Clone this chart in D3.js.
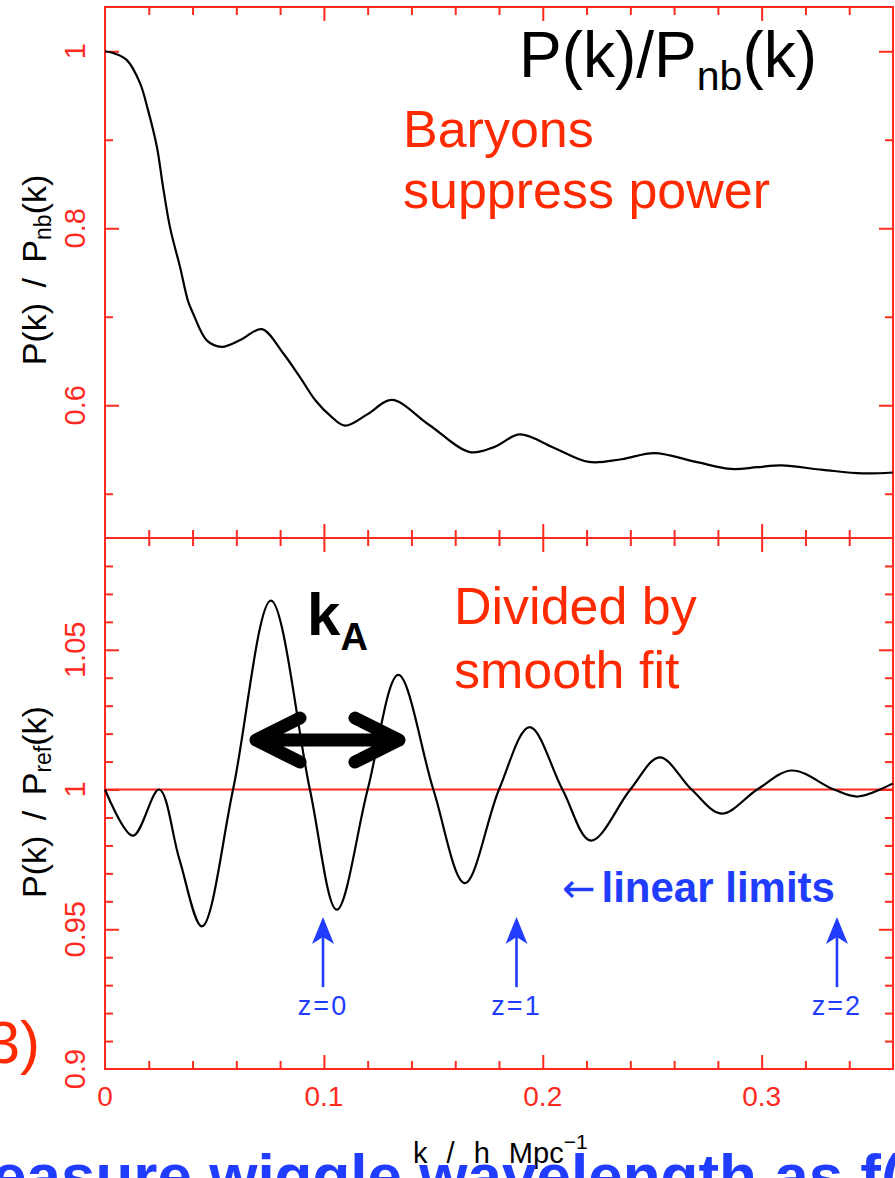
<!DOCTYPE html>
<html>
<head>
<meta charset="utf-8">
<script src="https://cdn.jsdelivr.net/npm/d3@7"></script>
<style>
  html, body { margin: 0; padding: 0; background: #fff; overflow: hidden; }
  svg { display: block; font-family: "Liberation Sans", Arial, Helvetica, sans-serif; }
</style>
</head>
<body>
<svg id="chart"></svg>
<script>
// ---- data ----
// upper panel: P(k)/P_nb(k)
var kTop = [0, 0.005, 0.010, 0.016, 0.0196, 0.0237, 0.0265, 0.0297, 0.0343, 0.0379, 0.0402, 0.0466, 0.0534, 0.062, 0.0717, 0.0813, 0.089, 0.096, 0.103, 0.1096, 0.12, 0.131, 0.148, 0.1667, 0.178, 0.1895, 0.205, 0.221, 0.236, 0.251, 0.27, 0.286, 0.298, 0.309, 0.328, 0.346, 0.36]
var ratioTop = [1, 0.997, 0.990, 0.964, 0.934, 0.892, 0.847, 0.801, 0.756, 0.718, 0.704, 0.673, 0.666, 0.674, 0.686, 0.659, 0.632, 0.606, 0.588, 0.577, 0.590, 0.606, 0.578, 0.547, 0.553, 0.567, 0.552, 0.536, 0.539, 0.546, 0.536, 0.528, 0.530, 0.532, 0.527, 0.523, 0.524]

// lower panel: P(k)/P_ref(k)
var kBot = [0, 0.0128, 0.0247, 0.034, 0.0443, 0.0585, 0.0758, 0.0936, 0.1059, 0.120, 0.134, 0.150, 0.1644, 0.180, 0.194, 0.209, 0.222, 0.240, 0.2534, 0.268, 0.2817, 0.298, 0.3137, 0.333, 0.344, 0.36]
var ratioBot = [1, 0.9835, 1.0, 0.975, 0.951, 1.0, 1.0676, 1.0, 0.957, 1.0, 1.041, 1.0, 0.9665, 1.0, 1.0223, 1.0, 0.9817, 1.0, 1.0115, 1.0, 0.9914, 1.0, 1.0068, 1.0, 0.9975, 1.0022]

// linear limits (arrows)
var zLimitK = [0.0996, 0.188, 0.3344]
var zLabels = ["z=0", "z=1", "z=2"]

// ticks
var kMajor = [0, 0.1, 0.2, 0.3]
var kMajorLabels = ["0", "0.1", "0.2", "0.3"]
var kMinor = [0.02, 0.04, 0.06, 0.08, 0.12, 0.14, 0.16, 0.18, 0.22, 0.24, 0.26, 0.28, 0.32, 0.34]
var topMajor = [0.6, 0.8, 1]
var topMajorLabels = ["0.6", "0.8", "1"]
var topMinor = [0.5, 0.7, 0.9]
var botMajor = [0.95, 1, 1.05]
var botLabelVals = [0.9, 0.95, 1, 1.05]
var botLabels = ["0.9", "0.95", "1", "1.05"]
var botMinor = [0.91, 0.92, 0.93, 0.94, 0.96, 0.97, 0.98, 0.99, 1.01, 1.02, 1.03, 1.04, 1.06, 1.07, 1.08]

var dimensions = {
    width: 895,
    height: 1178,
    left: 105,
    right: 893,
    top: 7,
    mid: 538,
    bottom: 1069
}

var axisRed = "#ff2a1f"
var textRed = "#ff2a00"
var blue = "#1f3cff"

var svg = d3.select("#chart")
    .attr("width", dimensions.width)
    .attr("height", dimensions.height)

var xScale = d3.scaleLinear()
    .domain([0, 0.36])
    .range([dimensions.left, dimensions.right])

var yTop = d3.scaleLinear()
    .domain([0.45, 1.05])
    .range([dimensions.mid, dimensions.top])

var yBot = d3.scaleLinear()
    .domain([0.9, 1.09])
    .range([dimensions.bottom, dimensions.mid])

// ---- ticks (all pointing inwards) ----
function addTicks(axisFn, scale, values, len, tx, ty) {
    svg.append("g")
        .attr("transform", "translate(" + tx + "," + ty + ")")
        .attr("color", axisRed)
        .call(axisFn(scale).tickValues(values).tickSize(-len).tickFormat(""))
        .call(g => g.select(".domain").remove())
        .selectAll("line").attr("stroke-width", 2)
}

// x ticks: bottom of each panel and top of each panel
addTicks(d3.axisBottom, xScale, kMajor.slice(1), 14, 0, dimensions.bottom)
addTicks(d3.axisBottom, xScale, kMinor, 8, 0, dimensions.bottom)
addTicks(d3.axisBottom, xScale, kMajor.slice(1), 14, 0, dimensions.mid)
addTicks(d3.axisBottom, xScale, kMinor, 8, 0, dimensions.mid)
addTicks(d3.axisTop, xScale, kMajor.slice(1), 14, 0, dimensions.mid)
addTicks(d3.axisTop, xScale, kMinor, 8, 0, dimensions.mid)
addTicks(d3.axisTop, xScale, kMajor.slice(1), 14, 0, dimensions.top)
addTicks(d3.axisTop, xScale, kMinor, 8, 0, dimensions.top)

// y ticks
addTicks(d3.axisLeft, yTop, topMajor, 14, dimensions.left, 0)
addTicks(d3.axisLeft, yTop, topMinor, 8, dimensions.left, 0)
addTicks(d3.axisRight, yTop, topMajor, 14, dimensions.right, 0)
addTicks(d3.axisRight, yTop, topMinor, 8, dimensions.right, 0)
addTicks(d3.axisLeft, yBot, botMajor, 14, dimensions.left, 0)
addTicks(d3.axisLeft, yBot, botMinor, 8, dimensions.left, 0)
addTicks(d3.axisRight, yBot, botMajor, 14, dimensions.right, 0)
addTicks(d3.axisRight, yBot, botMinor, 8, dimensions.right, 0)

// frame
svg.append("rect")
    .attr("x", dimensions.left)
    .attr("y", dimensions.top)
    .attr("width", dimensions.right - dimensions.left)
    .attr("height", dimensions.bottom - dimensions.top)
    .attr("fill", "none")
    .attr("stroke", axisRed)
    .attr("stroke-width", 2)

svg.append("line")
    .attr("x1", dimensions.left).attr("x2", dimensions.right)
    .attr("y1", dimensions.mid).attr("y2", dimensions.mid)
    .attr("stroke", axisRed)
    .attr("stroke-width", 2)

// unity line in lower panel
svg.append("line")
    .attr("x1", xScale(0)).attr("x2", xScale(0.36))
    .attr("y1", yBot(1)).attr("y2", yBot(1))
    .attr("stroke", axisRed)
    .attr("stroke-width", 2)

// ---- tick labels (rotated on y, like the original plot) ----
var tickFont = 29

svg.append("g").selectAll("text")
    .data(topMajor)
    .enter()
    .append("text")
    .attr("transform", (d, i) => "translate(85," + yTop(d) + ") rotate(-90)")
    .attr("text-anchor", "middle")
    .attr("fill", axisRed)
    .style("font-size", tickFont + "px")
    .text((d, i) => topMajorLabels[i])

svg.append("g").selectAll("text")
    .data(botLabelVals)
    .enter()
    .append("text")
    .attr("transform", (d, i) => "translate(85," + yBot(d) + ") rotate(-90)")
    .attr("text-anchor", "middle")
    .attr("fill", axisRed)
    .style("font-size", tickFont + "px")
    .text((d, i) => botLabels[i])

svg.append("g").selectAll("text")
    .data(kMajor)
    .enter()
    .append("text")
    .attr("x", d => xScale(d))
    .attr("y", 1106)
    .attr("text-anchor", "middle")
    .attr("fill", axisRed)
    .style("font-size", "28px")
    .text((d, i) => kMajorLabels[i])

// ---- axis titles ----
var yt1 = svg.append("text")
    .attr("transform", "translate(46," + 270 + ") rotate(-90)")
    .attr("text-anchor", "middle")
    .style("font-size", "34px")
    .style("word-spacing", "6px")
yt1.append("tspan").text("P(k) / P")
yt1.append("tspan").attr("dy", 5).style("font-size", "23px").text("nb")
yt1.append("tspan").attr("dy", -5).text("(k)")

var yt2 = svg.append("text")
    .attr("transform", "translate(46," + 802 + ") rotate(-90)")
    .attr("text-anchor", "middle")
    .style("font-size", "34px")
    .style("word-spacing", "6px")
yt2.append("tspan").text("P(k) / P")
yt2.append("tspan").attr("dy", 5).style("font-size", "23px").text("ref")
yt2.append("tspan").attr("dy", -5).text("(k)")

var xt = svg.append("text")
    .attr("x", 413)
    .attr("y", 1163)
    .style("font-size", "29px")
    .style("word-spacing", "11px")
xt.append("tspan").text("k / h Mpc")
xt.append("tspan").attr("dy", -14).style("font-size", "21px").text("\u22121")

// ---- curves ----
var topData = kTop.map((k, i) => ({ k: k, v: ratioTop[i] }))
var botData = kBot.map((k, i) => ({ k: k, v: ratioBot[i] }))

svg.append("path")
    .datum(topData)
    .attr("fill", "none")
    .attr("stroke", "black")
    .attr("stroke-width", 2.2)
    .attr("d", d3.line().curve(d3.curveCatmullRom.alpha(0.5)).x(d => xScale(d.k)).y(d => yTop(d.v)))

svg.append("path")
    .datum(botData)
    .attr("fill", "none")
    .attr("stroke", "black")
    .attr("stroke-width", 2.2)
    .attr("d", d3.line().curve(d3.curveCatmullRom.alpha(0.5)).x(d => xScale(d.k)).y(d => yBot(d.v)))

// ---- annotations ----
// title
var title = svg.append("text")
    .attr("x", 519)
    .attr("y", 77)
    .style("font-size", "64px")
title.append("tspan").text("P(k)/P")
title.append("tspan").attr("dy", 13).style("font-size", "41px").text("nb")
title.append("tspan").attr("dy", -13).text("(k)")

svg.append("text")
    .attr("x", 403).attr("y", 147)
    .attr("fill", textRed)
    .style("font-size", "52px")
    .text("Baryons")
svg.append("text")
    .attr("x", 403).attr("y", 208)
    .attr("fill", textRed)
    .style("font-size", "52px")
    .text("suppress power")

svg.append("text")
    .attr("x", 454).attr("y", 624)
    .attr("fill", textRed)
    .style("font-size", "52px")
    .text("Divided by")
svg.append("text")
    .attr("x", 454).attr("y", 688)
    .attr("fill", textRed)
    .style("font-size", "52px")
    .text("smooth fit")

// k_A
var kA = svg.append("text")
    .attr("x", 307)
    .attr("y", 635)
    .style("font-size", "60px")
    .style("font-weight", "bold")
kA.append("tspan").text("k")
kA.append("tspan").attr("dy", 15).style("font-size", "38px").text("A")

// double arrow between peaks
var arrowL = xScale(0.069), arrowR = xScale(0.1343), arrowY = yBot(1.0177)
svg.append("path")
    .attr("d", "M" + arrowL + "," + arrowY + "H" + arrowR +
        "M" + (arrowL + 44) + "," + (arrowY - 22) + "L" + arrowL + "," + arrowY + "L" + (arrowL + 44) + "," + (arrowY + 22) +
        "M" + (arrowR - 44) + "," + (arrowY - 22) + "L" + arrowR + "," + arrowY + "L" + (arrowR - 44) + "," + (arrowY + 22))
    .attr("fill", "none")
    .attr("stroke", "black")
    .attr("stroke-width", 13)
    .attr("stroke-linecap", "round")
    .attr("stroke-linejoin", "round")

// linear limits
var lin = svg.append("text")
    .attr("x", 562)
    .attr("y", 902)
    .attr("fill", blue)
    .style("font-size", "42px")
lin.append("tspan").style("font-family", "'DejaVu Sans', sans-serif").style("font-size", "40px").text("\u2190")
lin.append("tspan").attr("dx", 6).style("font-weight", "bold").text("linear limits")

var zArrows = svg.append("g")
zArrows.selectAll("line")
    .data(zLimitK)
    .enter()
    .append("line")
    .attr("x1", d => xScale(d)).attr("x2", d => xScale(d))
    .attr("y1", yBot(0.9293)).attr("y2", yBot(0.9505))
    .attr("stroke", blue)
    .attr("stroke-width", 2.6)
zArrows.selectAll("path")
    .data(zLimitK)
    .enter()
    .append("path")
    .attr("d", function (d) {
        var x = xScale(d), y = yBot(0.9544)
        return "M" + x + "," + y + "L" + (x + 11) + "," + (y + 27) + "L" + x + "," + (y + 20) + "L" + (x - 11) + "," + (y + 27) + "Z"
    })
    .attr("fill", blue)
zArrows.selectAll("text")
    .data(zLimitK)
    .enter()
    .append("text")
    .attr("x", d => xScale(d))
    .attr("y", yBot(0.9193))
    .attr("text-anchor", "middle")
    .attr("fill", blue)
    .style("font-size", "27px")
    .style("letter-spacing", "2px")
    .text((d, i) => zLabels[i])

// slide text cut by the picture edges
svg.append("text")
    .attr("x", 40)
    .attr("y", 1063)
    .attr("text-anchor", "end")
    .attr("fill", textRed)
    .style("font-size", "60px")
    .text("3)")

svg.append("text")
    .attr("x", -8)
    .attr("y", 1197)
    .attr("fill", blue)
    .style("font-size", "62px")
    .style("font-weight", "bold")
    .text("easure wiggle wavelength as f(")
</script>
</body>
</html>
